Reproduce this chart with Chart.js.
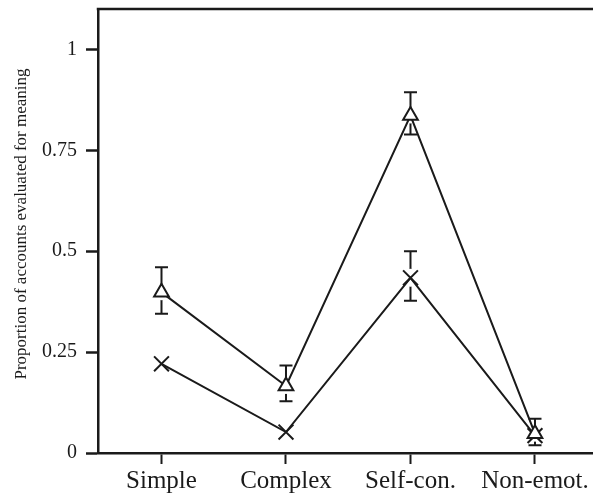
<!DOCTYPE html>
<html>
<head>
<meta charset="utf-8">
<script src="https://cdn.jsdelivr.net/npm/chart.js@4"></script>
<style>
  html, body { margin: 0; padding: 0; background: #fff; overflow: hidden; }
  #wrap { width: 593px; height: 496px; }
</style>
</head>
<body>
<div id="wrap"><canvas id="chart"></canvas></div>
<script>
// categories and values
const categories = ['Simple', 'Complex', 'Self-con.', 'Non-emot.'];
const triangleValues = [0.398, 0.166, 0.836, 0.048];
const triangleLow = [0.345, 0.128, 0.789, 0.019];
const triangleHigh = [0.460, 0.217, 0.894, 0.085];
const crossValues = [0.221, 0.052, 0.434, 0.043];
const crossLow = [null, null, 0.377, null];
const crossHigh = [null, null, 0.500, null];
const yTicks = [0, 0.25, 0.5, 0.75, 1];
const yTitle = 'Proportion of accounts evaluated for meaning';

const serif = '"Liberation Serif", "DejaVu Serif", serif';

// error bars plus a white patch so the stems stop short of the markers
const errorBars = {
    id: 'errorBars',
    beforeDatasetsDraw(chart) {
        const ctx = chart.ctx;
        const y = chart.scales.y;
        const x = chart.scales.x;
        ctx.save();
        ctx.strokeStyle = '#1a1a1a';
        ctx.lineWidth = 2;
        chart.data.datasets.forEach((ds) => {
            ds.data.forEach((pt, i) => {
                if (ds.errLow[i] == null) return;
                const px = x.getPixelForValue(pt.x);
                const lo = y.getPixelForValue(ds.errLow[i]);
                const hi = y.getPixelForValue(ds.errHigh[i]);
                ctx.beginPath();
                ctx.moveTo(px, lo); ctx.lineTo(px, hi);
                ctx.moveTo(px - 6.5, lo); ctx.lineTo(px + 6.5, lo);
                ctx.moveTo(px - 6.5, hi); ctx.lineTo(px + 6.5, hi);
                ctx.stroke();
            });
        });
        ctx.fillStyle = '#fff';
        chart.data.datasets.forEach((ds) => {
            ds.data.forEach((pt, i) => {
                if (ds.errLow[i] == null) return;
                const px = x.getPixelForValue(pt.x);
                const py = y.getPixelForValue(pt.y);
                ctx.beginPath();
                ctx.arc(px, py, ds.halo, 0, Math.PI * 2);
                ctx.fill();
            });
        });
        ctx.restore();
    }
};

// top frame line and the rotated y title
const frame = {
    id: 'frame',
    afterDraw(chart) {
        const ctx = chart.ctx;
        const a = chart.chartArea;
        ctx.save();
        ctx.strokeStyle = '#1a1a1a';
        ctx.lineWidth = 2.5;
        ctx.beginPath();
        ctx.moveTo(a.left - 1.25, a.top);
        ctx.lineTo(chart.width, a.top);
        ctx.stroke();
        ctx.translate(26, (a.top + a.bottom) / 2 - 7);
        ctx.rotate(-Math.PI / 2);
        ctx.fillStyle = '#1a1a1a';
        ctx.font = '17px ' + serif;
        ctx.textAlign = 'center';
        ctx.textBaseline = 'alphabetic';
        ctx.fillText(yTitle, 0, 0);
        ctx.restore();
    }
};

const toPoints = (vals) => vals.map((v, i) => ({ x: i, y: v }));

new Chart(document.getElementById('chart').getContext('2d'), {
    type: 'line',
    data: {
        datasets: [{
            label: 'triangle',
            data: toPoints(triangleValues),
            errLow: triangleLow,
            errHigh: triangleHigh,
            halo: 8,
            borderColor: '#1a1a1a',
            borderWidth: 2,
            pointStyle: 'triangle',
            pointRadius: 8.5,
            pointBorderWidth: 2,
            pointBackgroundColor: '#fff',
            pointBorderColor: '#1a1a1a',
            tension: 0
        }, {
            label: 'cross',
            data: toPoints(crossValues),
            errLow: crossLow,
            errHigh: crossHigh,
            halo: 9,
            borderColor: '#1a1a1a',
            borderWidth: 2,
            pointStyle: 'crossRot',
            pointRadius: 10.5,
            pointBorderWidth: 2,
            pointBackgroundColor: '#fff',
            pointBorderColor: '#1a1a1a',
            tension: 0
        }]
    },
    options: {
        responsive: true,
        maintainAspectRatio: false,
        animation: false,
        layout: { autoPadding: false, padding: { top: 9, left: 0, right: 0, bottom: 0 } },
        plugins: {
            legend: { display: false },
            tooltip: { enabled: false }
        },
        scales: {
            x: {
                type: 'linear',
                min: -0.51,
                max: 3.466,
                afterBuildTicks: (s) => { s.ticks = categories.map((c, i) => ({ value: i })); },
                afterFit: (s) => {
                    s.height = 43;
                    s.paddingLeft = 0;
                    s.paddingRight = 0;
                },
                ticks: {
                    callback: (v) => categories[v],
                    color: '#1a1a1a',
                    font: { family: serif, size: 25 },
                    padding: 2,
                    maxRotation: 0,
                    autoSkip: false
                },
                grid: {
                    drawOnChartArea: false,
                    drawTicks: true,
                    tickLength: 11,
                    tickWidth: 2,
                    tickColor: '#1a1a1a'
                },
                border: { display: true, color: '#1a1a1a', width: 2.5 }
            },
            y: {
                min: 0,
                max: 1.1,
                afterBuildTicks: (s) => { s.ticks = yTicks.map((v) => ({ value: v })); },
                afterFit: (s) => {
                    s.width = 98;
                    s.paddingTop = 0;
                    s.paddingBottom = 0;
                },
                ticks: {
                    callback: (v) => String(v),
                    color: '#1a1a1a',
                    font: { family: serif, size: 20 },
                    padding: 9
                },
                grid: {
                    drawOnChartArea: false,
                    drawTicks: true,
                    tickLength: 12,
                    tickWidth: 2.5,
                    tickColor: '#1a1a1a'
                },
                border: { display: true, color: '#1a1a1a', width: 2.5 }
            }
        }
    },
    plugins: [errorBars, frame]
});
</script>
</body>
</html>
